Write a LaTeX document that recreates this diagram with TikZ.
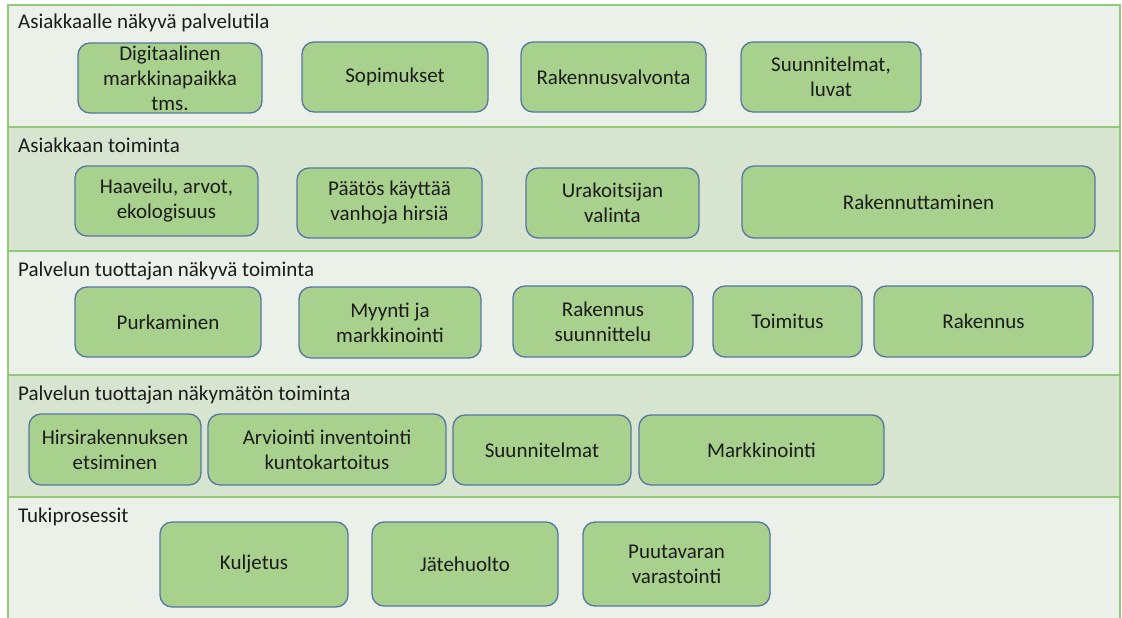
\documentclass[tikz,border=0pt]{standalone}
\usepackage{fontspec}
\setmainfont{Carlito}
\definecolor{bandlight}{HTML}{EBF0E8}
\definecolor{banddark}{HTML}{D7E4CF}
\definecolor{bandline}{HTML}{92C97B}
\definecolor{boxfill}{HTML}{A9D18E}
\definecolor{boxline}{HTML}{5577A3}
\definecolor{txt}{HTML}{1C1C1C}
\tikzset{
  band/.style={draw=bandline, line width=1.4pt},
  bandlabel/.style={anchor=base west, inner sep=0pt, text=txt, font=\fontsize{21}{25}\selectfont},
  stage/.style={draw=boxline, fill=boxfill, line width=1.3pt, rounded corners=12pt,
    text=txt, align=center, inner sep=2pt, font=\fontsize{21}{25}\selectfont},
}
% \stagebox{name}{x1}{y1}{x2}{y2}{text}
\newcommand\stagebox[6]{%
  \node[stage, minimum width={(#4-#2)*1pt}, minimum height={(#5-#3)*1pt}]
    (#1) at ({(#2+#4)/2},{(#3+#5)/2}) {#6};}
\begin{document}
\begin{tikzpicture}[x=1pt, y=-1pt]
\useasboundingbox (0,0) rectangle (1122,618);
\fill[white] (0,0) rectangle (1122,618);
% swim lanes
\fill[bandlight] (8,5) rectangle (1120,127);
\fill[banddark]  (8,127) rectangle (1120,251);
\fill[bandlight] (8,251) rectangle (1120,375);
\fill[banddark]  (8,375) rectangle (1120,497);
\fill[bandlight] (8,497) rectangle (1120,619);
\draw[band] (8,619) -- (8,5) -- (1120,5) -- (1120,619);
\foreach \yy in {127,251,375,497} \draw[band] (8,\yy) -- (1120,\yy);
% lane titles
\node[bandlabel] (l1) at (18,29)  {Asiakkaalle näkyvä palvelutila};
\node[bandlabel] (l2) at (18,152) {Asiakkaan toiminta};
\node[bandlabel] (l3) at (18,276) {Palvelun tuottajan näkyvä toiminta};
\node[bandlabel] (l4) at (18,400) {Palvelun tuottajan näkymätön toiminta};
\node[bandlabel] (l5) at (18,522) {Tukiprosessit};
% lane 1
\stagebox{a1}{78}{43}{262}{113}{Digitaalinen\\markkinapaikka\\tms.}
\stagebox{a2}{302}{42}{488}{112}{Sopimukset}
\stagebox{a3}{521}{42}{706}{112}{Rakennusvalvonta}
\stagebox{a4}{741}{42}{921}{112}{Suunnitelmat,\\luvat}
% lane 2
\stagebox{b1}{75}{166}{258}{236}{Haaveilu, arvot,\\ekologisuus}
\stagebox{b2}{297}{168}{482}{238}{Päätös käyttää\\vanhoja hirsiä}
\stagebox{b3}{526}{168}{699}{238}{Urakoitsijan\\valinta}
\stagebox{b4}{742}{166}{1095}{238}{Rakennuttaminen}
% lane 3
\stagebox{c1}{75}{287}{261}{357}{Purkaminen}
\stagebox{c2}{299}{287}{481}{358}{Myynti ja\\markkinointi}
\stagebox{c3}{513}{286}{693}{357}{Rakennus\\suunnittelu}
\stagebox{c4}{713}{286}{862}{357}{Toimitus}
\stagebox{c5}{874}{286}{1093}{357}{Rakennus}
% lane 4
\stagebox{d1}{29}{414}{201}{485}{Hirsirakennuksen\\etsiminen}
\stagebox{d2}{208}{414}{446}{485}{Arviointi inventointi\\kuntokartoitus}
\stagebox{d3}{453}{415}{631}{485}{Suunnitelmat}
\stagebox{d4}{639}{415}{884}{485}{Markkinointi}
% lane 5
\stagebox{e1}{160}{522}{348}{607}{Kuljetus}
\stagebox{e2}{372}{522}{558}{606}{Jätehuolto}
\stagebox{e3}{583}{522}{770}{606}{Puutavaran\\varastointi}
\end{tikzpicture}
\end{document}
